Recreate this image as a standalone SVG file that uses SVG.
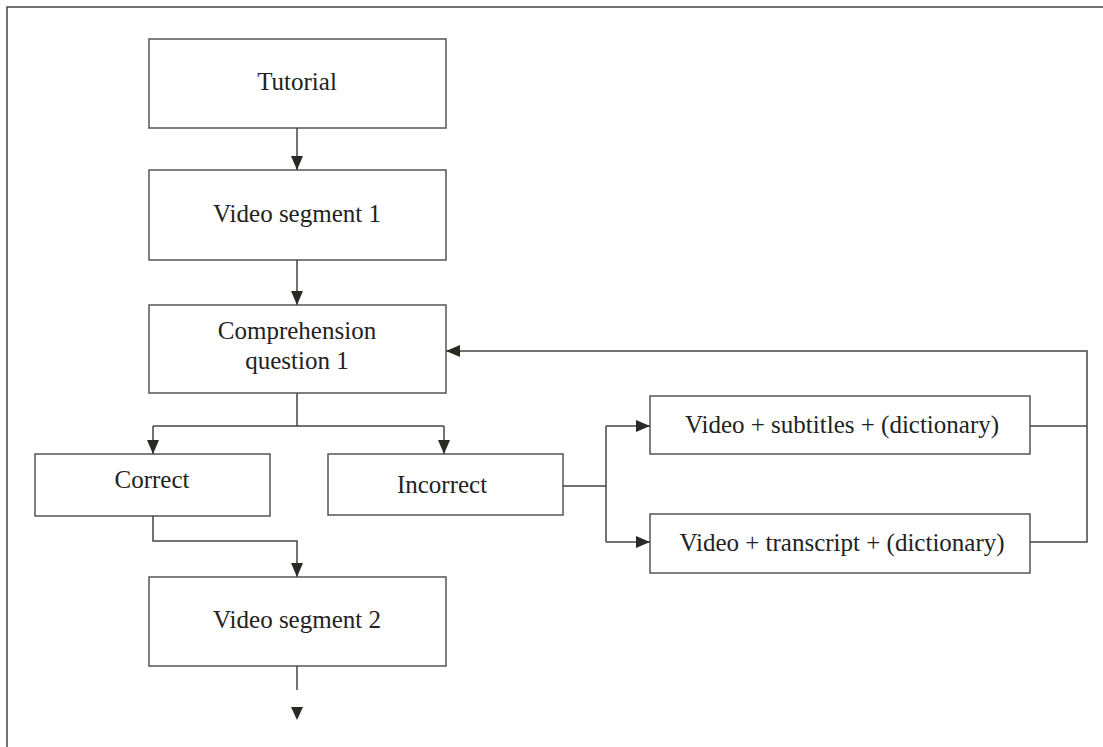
<svg xmlns="http://www.w3.org/2000/svg" width="1103" height="747" viewBox="0 0 1103 747">
<style>
.box{fill:#fff;stroke:#555;stroke-width:1.5}
.t{font-family:"Liberation Serif","Times New Roman",serif;font-size:25px;fill:#222;text-anchor:middle;dominant-baseline:central}
.c{fill:none;stroke:#444;stroke-width:1.5}
</style>
<defs>
<marker id="a" markerWidth="14" markerHeight="12" refX="14" refY="6" orient="auto" markerUnits="userSpaceOnUse">
<path d="M0,0 L14,6 L0,12 Z" fill="#2a2a25"/>
</marker>
</defs>
<rect width="1103" height="747" fill="#fff"/>
<path d="M7,747 V7 H1103" fill="none" stroke="#444" stroke-width="1.5"/>
<g id="tutorial"><rect class="box" x="149" y="39" width="297" height="89"/><text class="t" x="297" y="81">Tutorial</text></g>
<g id="vs1"><rect class="box" x="149" y="170" width="297" height="90"/><text class="t" x="297" y="213">Video segment 1</text></g>
<g id="cq1"><rect class="box" x="149" y="305" width="297" height="88"/><text class="t" x="297" y="330">Comprehension</text><text class="t" x="297" y="360">question 1</text></g>
<g id="correct"><rect class="box" x="35" y="454" width="235" height="62"/><text class="t" x="152" y="479">Correct</text></g>
<g id="incorrect"><rect class="box" x="328" y="454" width="235" height="61"/><text class="t" x="442" y="484">Incorrect</text></g>
<g id="subs"><rect class="box" x="650" y="396" width="380" height="58"/><text class="t" x="842" y="424">Video + subtitles + (dictionary)</text></g>
<g id="trans"><rect class="box" x="650" y="514" width="380" height="59"/><text class="t" x="842" y="542">Video + transcript + (dictionary)</text></g>
<g id="vs2"><rect class="box" x="149" y="577" width="297" height="89"/><text class="t" x="297" y="619">Video segment 2</text></g>
<g id="connectors">
<path class="c" d="M297,128 V170" marker-end="url(#a)"/>
<path class="c" d="M297,260 V305" marker-end="url(#a)"/>
<path class="c" d="M297,393 V426"/>
<path class="c" d="M153,426 H444"/>
<path class="c" d="M153,426 V454" marker-end="url(#a)"/>
<path class="c" d="M444,426 V454" marker-end="url(#a)"/>
<path class="c" d="M563,486 H606"/>
<path class="c" d="M606,426 V542"/>
<path class="c" d="M606,426 H650" marker-end="url(#a)"/>
<path class="c" d="M606,542 H650" marker-end="url(#a)"/>
<path class="c" d="M1030,426 H1087"/>
<path class="c" d="M1030,542 H1087 V351 H446" marker-end="url(#a)"/>
<path class="c" d="M153,516 V541 H297 V577" marker-end="url(#a)"/>
<path class="c" d="M297,666 V690"/>
<path d="M291,707 L303,707 L297,720 Z" fill="#2a2a25"/>
</g>
</svg>
